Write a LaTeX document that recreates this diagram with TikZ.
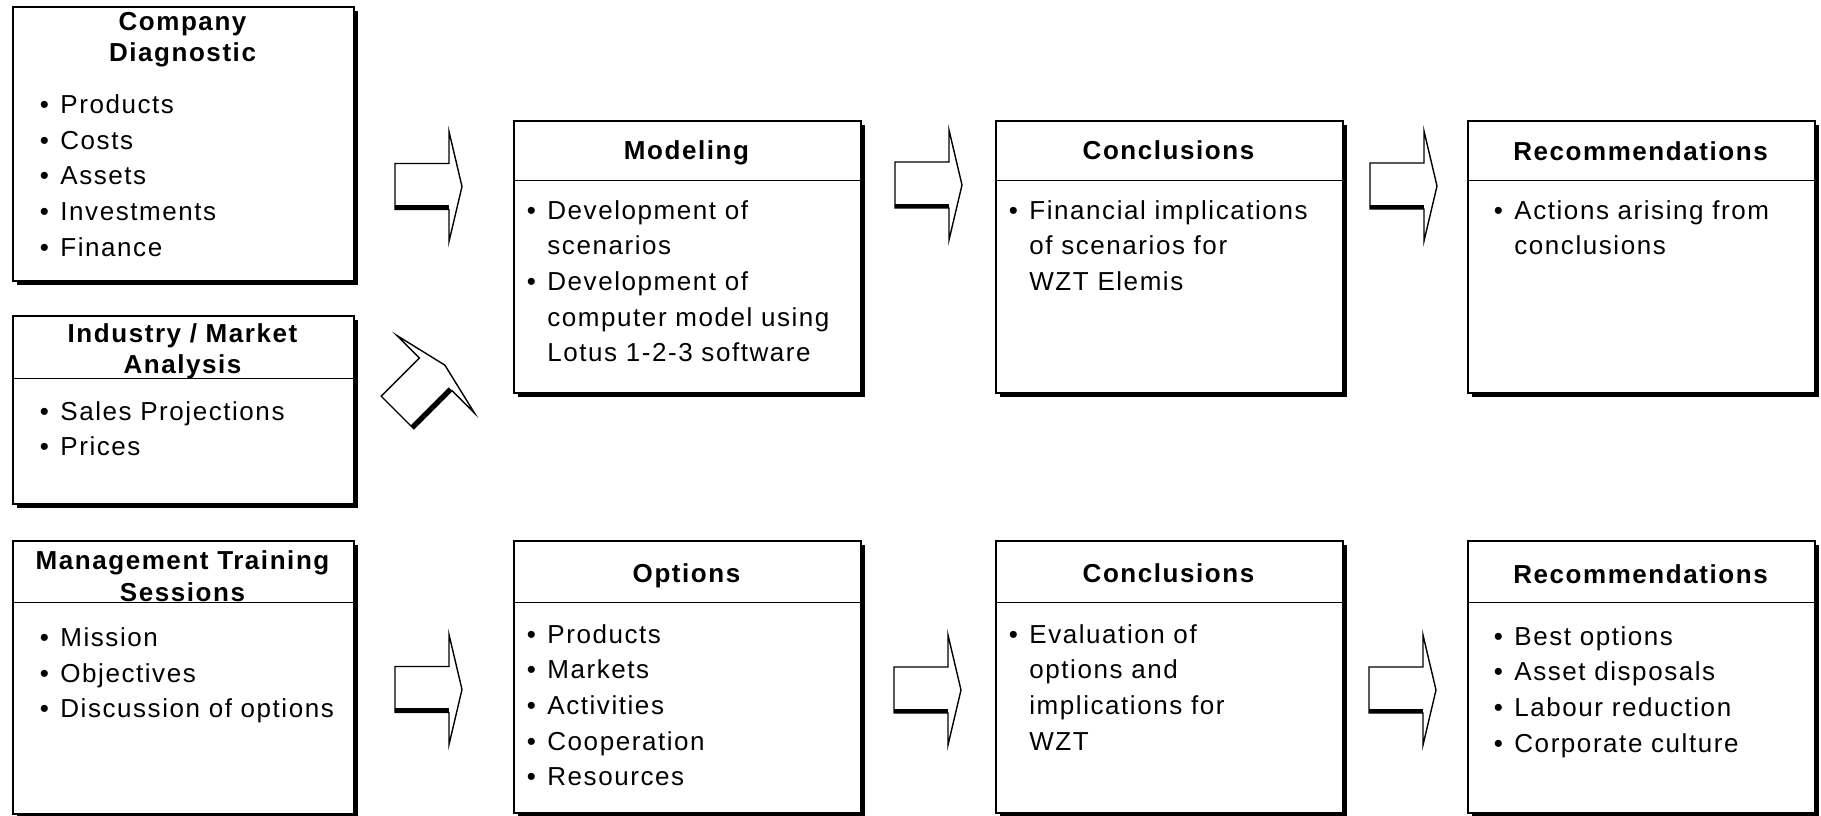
\documentclass[tikz,border=0pt]{standalone}
\usepackage{fontspec}
\setmainfont{Liberation Sans}[LetterSpace=6]
\usetikzlibrary{positioning,shadows}
\newcommand{\itm}{\makebox[10.25pt][l]{\textbullet}}
\newcommand{\itc}{\hspace*{10.25pt}}
\tikzset{
  panel/.style={draw,line width=0.8pt,fill=white,anchor=north west,inner sep=0pt,
    minimum width=173.5pt,minimum height=136pt,
    drop shadow={shadow xshift=2pt,shadow yshift=-2pt,fill=black,opacity=1}},
  rule/.style={line width=0.5pt},
  head/.style={font=\fontsize{13}{15.75}\selectfont\bfseries,text width=172pt,align=center,anchor=base,inner sep=0pt},
  items/.style={font=\fontsize{13}{17.85}\selectfont,text width=200pt,align=left,anchor=base west,inner sep=0pt},
  fatarrow/.pic={
    \draw[line width=0.7pt,fill=white] (0,23) -- (54,23) -- (54,55) -- (67,0) -- (54,-55) -- (54,-23) -- (0,-23) -- cycle;
    \fill (0,-23) rectangle (54,-18.5);
  }
}
\begin{document}
\begin{tikzpicture}[x=0.5pt,y=0.5pt]
  \useasboundingbox (0,0) rectangle (1821,-815);
  % inputs
  \node[panel,minimum width=170.5pt,minimum height=137pt] (diag) at (12,-6) {};
  \node[panel,minimum width=170.5pt,minimum height=94pt] (market) at (12,-315) {};
  \node[panel,minimum width=170.5pt,minimum height=136.5pt] (train) at (12,-540) {};
  % first stage
  \node[panel] (model) at (513,-120) {};
  \node[panel] (concl) at (995,-120) {};
  \node[panel] (recom) at (1467,-120) {};
  % second stage
  \node[panel] (opts) at (513,-540) {};
  \node[panel] (concltwo) at (995,-540) {};
  \node[panel] (recomtwo) at (1467,-540) {};
  % header rules
  \draw[rule] ([yshift=-31.5pt]market.north west) -- ([yshift=-31.5pt]market.north east);
  \draw[rule] ([yshift=-31pt]train.north west) -- ([yshift=-31pt]train.north east);
  \draw[rule] ([yshift=-30pt]model.north west) -- ([yshift=-30pt]model.north east);
  \draw[rule] ([yshift=-30pt]concl.north west) -- ([yshift=-30pt]concl.north east);
  \draw[rule] ([yshift=-30pt]recom.north west) -- ([yshift=-30pt]recom.north east);
  \draw[rule] ([yshift=-31pt]opts.north west) -- ([yshift=-31pt]opts.north east);
  \draw[rule] ([yshift=-31pt]concltwo.north west) -- ([yshift=-31pt]concltwo.north east);
  \draw[rule] ([yshift=-31pt]recomtwo.north west) -- ([yshift=-31pt]recomtwo.north east);
  % titles
  \node[head] (diagT) at (182.5,-30) {Company\\Diagnostic};
  \node[head] (marketT) at (182.5,-342) {Industry / Market\\Analysis};
  \node[head] (trainT) at (182.5,-569.5) {Management Training\\Sessions};
  \node[head] (modelT) at (686.5,-159.5) {Modeling};
  \node[head] (conclT) at (1168.5,-159.5) {Conclusions};
  \node[head] (recomT) at (1640.5,-160) {Recommendations};
  \node[head] (optsT) at (686.5,-582) {Options};
  \node[head] (concltwoT) at (1168.5,-582) {Conclusions};
  \node[head] (recomtwoT) at (1640.5,-583) {Recommendations};
  % bullet lists
  \node[items] (diagL) at (39.5,-113.5) {\itm Products\\\itm Costs\\\itm Assets\\\itm Investments\\\itm Finance};
  \node[items] (marketL) at (39.5,-420) {\itm Sales Projections\\\itm Prices};
  \node[items] (trainL) at (39.5,-646.5) {\itm Mission\\\itm Objectives\\\itm Discussion of options};
  \node[items] (modelL) at (526.5,-219) {\itm Development of\\\itc scenarios\\\itm Development of\\\itc computer model using\\\itc Lotus 1-2-3 software};
  \node[items] (conclL) at (1008.5,-219) {\itm Financial implications\\\itc of scenarios for\\\itc WZT Elemis};
  \node[items] (recomL) at (1493.5,-219) {\itm Actions arising from\\\itc conclusions};
  \node[items] (optsL) at (526.5,-643) {\itm Products\\\itm Markets\\\itm Activities\\\itm Cooperation\\\itm Resources};
  \node[items] (concltwoL) at (1008.5,-643) {\itm Evaluation of\\\itc options and\\\itc implications for\\\itc WZT};
  \node[items] (recomtwoL) at (1493.5,-645) {\itm Best options\\\itm Asset disposals\\\itm Labour reduction\\\itm Corporate culture};
  % block arrows
  \pic (arrA) at (395,-186.5) {fatarrow};
  \pic (arrB) at (895,-185) {fatarrow};
  \pic (arrC) at (1370,-186) {fatarrow};
  \pic[rotate=45] (arrD) at (397.5,-412.5) {fatarrow};
  \pic (arrE) at (395,-689.5) {fatarrow};
  \pic (arrF) at (894,-690) {fatarrow};
  \pic (arrG) at (1369,-690) {fatarrow};
\end{tikzpicture}
\end{document}
